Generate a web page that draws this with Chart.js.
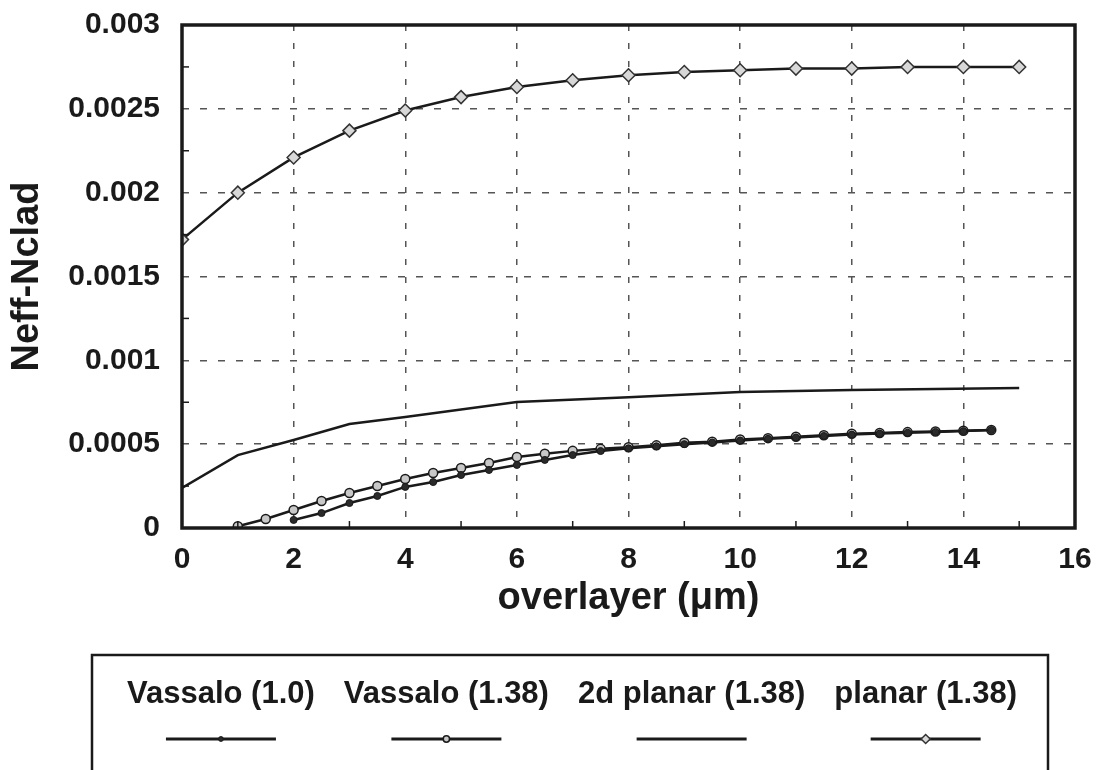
<!DOCTYPE html>
<html>
<head>
<meta charset="utf-8">
<script src="https://cdn.jsdelivr.net/npm/chart.js@4/dist/chart.umd.min.js"></script>
<style>
  body { margin: 0; background: #fff; }
  canvas { display: block; }
</style>
</head>
<body>
<canvas id="canvas" width="1098" height="770"></canvas>
<script>
// tick labels
const xTickLabels = ['0', '2', '4', '6', '8', '10', '12', '14', '16'];
const yTickLabels = ['0', '0.0005', '0.001', '0.0015', '0.002', '0.0025', '0.003'];

// Vassalo (1.0)
const vassalo10X = [2, 2.5, 3, 3.5, 4, 4.5, 5, 5.5, 6, 6.5, 7, 7.5, 8, 8.5, 9, 9.5, 10, 10.5, 11, 11.5, 12, 12.5, 13, 13.5, 14, 14.5];
const vassalo10Y = [0.000048, 0.000089, 0.000149, 0.000191, 0.000245, 0.000274, 0.000316, 0.000346, 0.000376, 0.000406, 0.000435, 0.000459,
  0.000475, 0.000487, 0.0005, 0.00051, 0.000522, 0.000532, 0.00054, 0.000549, 0.000557, 0.000563, 0.000568, 0.000573, 0.000578, 0.000584];

// Vassalo (1.38)
const vassalo138X = [1, 1.5, 2, 2.5, 3, 3.5, 4, 4.5, 5, 5.5, 6, 6.5, 7, 7.5, 8, 8.5, 9, 9.5, 10, 10.5, 11, 11.5, 12, 12.5, 13, 13.5, 14, 14.5];
const vassalo138Y = [0.00001, 0.000054, 0.000107, 0.000161, 0.000209, 0.00025, 0.000292, 0.000328, 0.000358, 0.000388, 0.000423, 0.000443,
  0.00046, 0.000472, 0.000482, 0.000493, 0.000508, 0.000515, 0.000528, 0.000536, 0.000544, 0.000553, 0.000562, 0.000567, 0.000572, 0.000576, 0.00058, 0.000585];

// 2d planar (1.38)
const planar2dX = [0, 1, 2, 3, 4, 6, 8, 10, 12, 15];
const planar2dY = [0.000239, 0.000435, 0.000525, 0.00062, 0.000662, 0.000751, 0.00078, 0.000811, 0.000823, 0.000835];

// planar (1.38)
const planarX = [0, 1, 2, 3, 4, 5, 6, 7, 8, 9, 10, 11, 12, 13, 14, 15];
const planarY = [0.00172, 0.002, 0.00221, 0.00237, 0.00249, 0.00257, 0.00263, 0.00267, 0.0027, 0.00272, 0.00273, 0.00274, 0.00274, 0.00275, 0.00275, 0.00275];

const FONT = '"Liberation Sans", Arial, Helvetica, sans-serif';

function pts(xs, ys) {
  return xs.map((x, i) => ({ x: x, y: ys[i] }));
}

// frame, minor ticks and the boxed legend underneath
const extras = {
  id: 'extras',
  afterDraw(chart) {
    const ctx = chart.ctx;
    const a = chart.chartArea;
    const sx = chart.scales.x, sy = chart.scales.y;
    ctx.save();
    ctx.strokeStyle = '#1a1a1a';
    ctx.lineWidth = 1.5;
    for (let v = 1; v < 16; v += 2) {
      const px = sx.getPixelForValue(v);
      ctx.beginPath(); ctx.moveTo(px, a.bottom); ctx.lineTo(px, a.bottom - 7); ctx.stroke();
    }
    for (let v = 0.00025; v < 0.003; v += 0.0005) {
      const py = sy.getPixelForValue(v);
      ctx.beginPath(); ctx.moveTo(a.left, py); ctx.lineTo(a.left + 7, py); ctx.stroke();
    }
    ctx.lineWidth = 3.5;
    ctx.strokeRect(a.left, a.top, a.right - a.left, a.bottom - a.top);

    // legend box
    ctx.lineWidth = 2.5;
    ctx.beginPath();
    ctx.moveTo(92, 780); ctx.lineTo(92, 655); ctx.lineTo(1048, 655); ctx.lineTo(1048, 780);
    ctx.stroke();

    ctx.font = 'bold 31px ' + FONT;
    ctx.fillStyle = '#1a1a1a';
    ctx.textAlign = 'center';
    ctx.textBaseline = 'middle';
    const ds = chart.data.datasets;
    const gap = 29;
    const widths = ds.map(d => ctx.measureText(d.label).width);
    const total = widths.reduce((s, w) => s + w, 0) + gap * (ds.length - 1);
    let x = 572 - total / 2;
    ds.forEach((d, i) => {
      const cx = x + widths[i] / 2;
      ctx.fillText(d.label, cx, 694);
      ctx.strokeStyle = d.borderColor;
      ctx.lineWidth = 3;
      ctx.beginPath(); ctx.moveTo(cx - 55, 739); ctx.lineTo(cx + 55, 739); ctx.stroke();
      if (d.pointRadius > 0) {
        ctx.fillStyle = d.pointBackgroundColor;
        ctx.strokeStyle = d.pointBorderColor;
        ctx.lineWidth = d.pointBorderWidth;
        Chart.helpers.drawPoint(ctx, { pointStyle: d.pointStyle, radius: d.pointRadius * 0.7, borderWidth: d.pointBorderWidth, rotation: 0 }, cx, 739);
      }
      ctx.fillStyle = '#1a1a1a';
      x += widths[i] + gap;
    });
    ctx.restore();
  }
};

new Chart(document.getElementById('canvas'), {
  type: 'line',
  data: {
    datasets: [
      {
        label: 'Vassalo (1.0)',
        data: pts(vassalo10X, vassalo10Y),
        borderColor: '#1a1a1a',
        borderWidth: 2.5,
        pointStyle: 'circle',
        pointRadius: 3.5,
        pointBackgroundColor: '#2a2a2a',
        pointBorderColor: '#1a1a1a',
        pointBorderWidth: 1
      },
      {
        label: 'Vassalo (1.38)',
        data: pts(vassalo138X, vassalo138Y),
        borderColor: '#1a1a1a',
        borderWidth: 2.5,
        pointStyle: 'circle',
        pointRadius: 4.5,
        pointBackgroundColor: '#c8c8c8',
        pointBorderColor: '#1a1a1a',
        pointBorderWidth: 1.5
      },
      {
        label: '2d planar (1.38)',
        data: pts(planar2dX, planar2dY),
        borderColor: '#1a1a1a',
        borderWidth: 2.5,
        pointRadius: 0,
        pointBackgroundColor: '#1a1a1a',
        pointBorderColor: '#1a1a1a',
        pointBorderWidth: 1
      },
      {
        label: 'planar (1.38)',
        data: pts(planarX, planarY),
        borderColor: '#1a1a1a',
        borderWidth: 2.5,
        pointStyle: 'rectRot',
        pointRadius: 6.5,
        pointBackgroundColor: '#d8d8d8',
        pointBorderColor: '#333',
        pointBorderWidth: 1.5
      }
    ]
  },
  options: {
    responsive: false,
    animation: false,
    layout: { padding: { left: 0, right: 23, top: 25, bottom: 142 } },
    elements: { line: { tension: 0 } },
    plugins: { legend: { display: false }, tooltip: { enabled: false } },
    scales: {
      x: {
        type: 'linear',
        min: 0,
        max: 16,
        ticks: {
          stepSize: 2,
          padding: 14,
          color: '#1a1a1a',
          font: { family: FONT, size: 30, weight: 'bold' },
          callback: (v, i) => xTickLabels[i]
        },
        grid: { color: '#555', lineWidth: 1.5, drawTicks: false },
        border: { display: false, dash: [6, 12] },
        title: {
          display: true,
          text: 'overlayer (μm)',
          color: '#1a1a1a',
          font: { family: FONT, size: 38, weight: 'bold' },
          padding: { top: 0, bottom: 7 }
        },
        afterFit: s => { s.height = 100; s.paddingLeft = 0; s.paddingRight = 0; }
      },
      y: {
        min: 0,
        max: 0.003,
        ticks: {
          stepSize: 0.0005,
          padding: 22,
          color: '#1a1a1a',
          font: { family: FONT, size: 30, weight: 'bold' },
          callback: (v, i) => yTickLabels[i]
        },
        grid: { color: '#555', lineWidth: 1.5, drawTicks: false },
        border: { display: false, dash: [7, 11] },
        title: {
          display: true,
          text: 'Neff-Nclad',
          color: '#1a1a1a',
          font: { family: FONT, size: 38, weight: 'bold' },
          padding: { top: 5, bottom: 0 }
        },
        afterFit: s => { s.width = 182; s.paddingTop = 0; s.paddingBottom = 0; }
      }
    }
  },
  plugins: [extras]
});
</script>
</body>
</html>
